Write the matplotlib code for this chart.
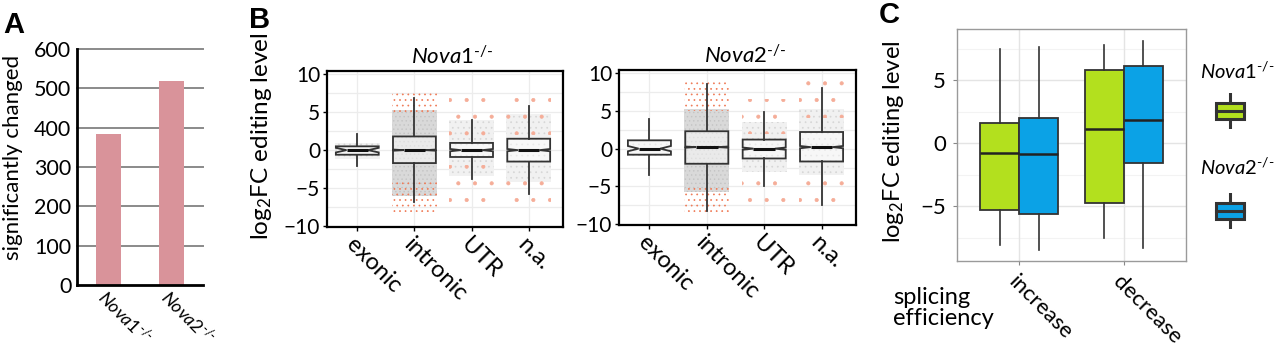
import matplotlib
matplotlib.use("Agg")
import matplotlib.pyplot as plt
from matplotlib.patches import Rectangle

plt.rcParams['font.family'] = ['Lato', 'DejaVu Sans']
plt.rcParams['mathtext.fontset'] = 'custom'
plt.rcParams['mathtext.rm'] = 'Lato'
plt.rcParams['mathtext.it'] = 'Lato:italic'
plt.rcParams['mathtext.bf'] = 'Lato:bold'
plt.rcParams['hatch.linewidth'] = 0.5

# ---- data ----
# A: number of significantly changed sites
genotypes = [r'$\mathit{Nova1}^{\text{-/-}}$', r'$\mathit{Nova2}^{\text{-/-}}$']
n_changed = [383, 519]

# B: log2FC editing level by region (box stats)
regions = ['exonic', 'intronic', 'UTR', 'n.a.']

nova1_wlo = [-2.1, -6.8, -3.8, -5.7]
nova1_q1 = [-0.6, -1.7, -0.9, -1.5]
nova1_med = [0.0, 0.0, 0.0, 0.0]
nova1_q3 = [0.5, 1.8, 0.95, 1.5]
nova1_whi = [2.1, 6.8, 3.9, 5.8]
nova1_notch = [0.3, 0.08, 0.15, 0.15]
# extent of the jittered points (grey = all sites, red = significant)
nova1_grey_lo = [-1.2, -6.0, -3.4, -4.2]
nova1_grey_hi = [1.0, 5.3, 4.0, 4.8]
nova1_red_top = [(0.0, 0.0), (4.8, 7.9), (1.5, 7.0), (2.0, 7.0)]
nova1_red_bot = [(0.0, 0.0), (-8.1, -3.8), (-8.0, -2.0), (-7.5, -2.5)]

nova2_wlo = [-3.5, -8.2, -5.0, -7.5]
nova2_q1 = [-0.8, -2.0, -1.3, -1.7]
nova2_med = [0.0, 0.2, 0.0, 0.2]
nova2_q3 = [1.1, 2.3, 1.2, 2.2]
nova2_whi = [3.9, 8.6, 4.9, 8.0]
nova2_notch = [0.35, 0.08, 0.15, 0.15]
nova2_grey_lo = [-1.0, -5.7, -3.1, -3.5]
nova2_grey_hi = [1.2, 5.3, 3.5, 5.3]
nova2_red_top = [(0.0, 0.0), (5.0, 9.2), (2.0, 6.5), (4.0, 9.0)]
nova2_red_bot = [(0.0, 0.0), (-8.5, -5.2), (-8.5, -3.0), (-7.7, -3.5)]

# C: editing level vs splicing efficiency
splicing = ['increase', 'decrease']
c_nova1_wlo = [-8.1, -7.55]
c_nova1_q1 = [-5.3, -4.75]
c_nova1_med = [-0.8, 1.1]
c_nova1_q3 = [1.6, 5.8]
c_nova1_whi = [7.5, 7.8]
c_nova2_wlo = [-8.45, -8.3]
c_nova2_q1 = [-5.65, -1.6]
c_nova2_med = [-0.85, 1.8]
c_nova2_q3 = [2.0, 6.15]
c_nova2_whi = [7.6, 8.1]

green = '#b3e01e'
blue = '#0ba2e6'
edge = '#333333'

W, H = 1280, 352
fig = plt.figure(figsize=(12.8, 3.52), dpi=100)


def px_axes(l, t, r, b):
    return fig.add_axes([l / W, 1 - b / H, (r - l) / W, (b - t) / H])


# ---- panel A ----
axA = px_axes(77, 49, 203, 285)
axA.bar([1, 2], n_changed, width=0.4, color='#d9939a', zorder=2)
axA.set_xlim(0.5, 2.5)
axA.set_ylim(0, 600)
axA.set_yticks(range(0, 601, 100))
for v in range(100, 601, 100):
    axA.axhline(v, color='#8a8a8a', lw=1.4, zorder=1, clip_on=False)
for s in ['top', 'right']:
    axA.spines[s].set_visible(False)
for s in ['left', 'bottom']:
    axA.spines[s].set_linewidth(2)
axA.tick_params(axis='y', length=0, labelsize=15.5, pad=4)
axA.tick_params(axis='x', length=0, pad=1)
axA.set_xticks([1, 2])
axA.set_xticklabels(genotypes, rotation=-45, ha='left', va='top',
                    rotation_mode='anchor', fontsize=13)
fig.text(13 / W, 1 - 157 / H, 'significantly changed', rotation=90,
         ha='center', va='center', fontsize=16)
fig.text(3 / W, 1 - 33 / H, 'A', fontsize=21, fontweight='bold',
         family='Liberation Sans')


# ---- panel B ----
def draw_region_panel(ax, title, wlo, q1, med, q3, whi, notch,
                      grey_lo, grey_hi, red_top, red_bot):
    pos = list(range(1, len(regions) + 1))
    for v in [-7.5, -2.5, 2.5, 7.5, -10, -5, 0, 5, 10]:
        ax.axhline(v, color='#ececec', lw=0.9, zorder=0)
    for p in pos:
        ax.axvline(p, color='#ececec', lw=0.9, zorder=0)
    for i, p in enumerate(pos):
        dense = regions[i] == 'intronic'
        ax.bar(p, grey_hi[i] - grey_lo[i], bottom=grey_lo[i], width=0.78,
               color='#d9d9d9' if dense else '#f1f1f1',
               edgecolor='#c4c4c4' if dense else '#d6d6d6', linewidth=0,
               hatch='....' if dense else '...', zorder=1)
        for lo, hi in (red_top[i], red_bot[i]):
            if hi > lo:
                ax.bar(p, hi - lo, bottom=lo, width=0.78, color='none',
                       edgecolor='#ef7a56' if dense else '#f5ad98',
                       linewidth=0, hatch='...' if dense else '.', zorder=1.5)
    stats = [dict(whislo=wlo[i], q1=q1[i], med=med[i], q3=q3[i], whishi=whi[i],
                  cilo=med[i] - notch[i], cihi=med[i] + notch[i])
             for i in range(len(regions))]
    ax.bxp(stats, positions=pos, widths=0.75, shownotches=True, showfliers=False,
           patch_artist=True, showcaps=False,
           boxprops=dict(facecolor=(1, 1, 1, 0.45), edgecolor=edge, lw=1.3),
           whiskerprops=dict(color=edge, lw=1.3),
           medianprops=dict(color='#111111', lw=2.2), zorder=3)
    ax.set_xlim(0.47, 4.6)
    ax.set_ylim(-10.1, 10.4)
    ax.set_yticks([-10, -5, 0, 5, 10])
    ax.set_xticks(pos)
    ax.set_xticklabels(regions, rotation=-45, ha='left', va='top',
                       rotation_mode='anchor', fontsize=17)
    ax.tick_params(axis='y', length=3, width=1, labelsize=15, pad=2)
    ax.tick_params(axis='x', length=3, width=1, pad=2)
    for s in ax.spines.values():
        s.set_linewidth(1.6)
    ax.set_title(title, fontsize=16, x=0.53, pad=5)


axB1 = px_axes(327, 71, 563, 227)
draw_region_panel(axB1, r'$\mathit{Nova1}^{\text{-/-}}$', nova1_wlo, nova1_q1, nova1_med,
                  nova1_q3, nova1_whi, nova1_notch, nova1_grey_lo, nova1_grey_hi,
                  nova1_red_top, nova1_red_bot)
axB2 = px_axes(619, 70, 856, 225)
draw_region_panel(axB2, r'$\mathit{Nova2}^{\text{-/-}}$', nova2_wlo, nova2_q1, nova2_med,
                  nova2_q3, nova2_whi, nova2_notch, nova2_grey_lo, nova2_grey_hi,
                  nova2_red_top, nova2_red_bot)
fig.text(262 / W, 1 - 136 / H, r'log$_2$FC editing level', rotation=90,
         ha='center', va='center', fontsize=17.5)
fig.text(249 / W, 1 - 28 / H, 'B', fontsize=21, fontweight='bold',
         family='Liberation Sans')

# ---- panel C ----
axC = px_axes(957, 29, 1186, 261)
cpos = [1, 2]
for v in [-7.5, -2.5, 2.5, 7.5]:
    axC.axhline(v, color='#f3f3f3', lw=0.8, zorder=0)
for v in [-5, 0, 5]:
    axC.axhline(v, color='#e4e4e4', lw=1.0, zorder=0)
for p in cpos:
    axC.axvline(p, color='#e4e4e4', lw=1.0, zorder=0)


def box_stats(wlo, q1, med, q3, whi):
    return [dict(whislo=wlo[i], q1=q1[i], med=med[i], q3=q3[i], whishi=whi[i])
            for i in range(len(wlo))]


for stats, offs, col in [
        (box_stats(c_nova1_wlo, c_nova1_q1, c_nova1_med, c_nova1_q3, c_nova1_whi), -0.1875, green),
        (box_stats(c_nova2_wlo, c_nova2_q1, c_nova2_med, c_nova2_q3, c_nova2_whi), 0.1875, blue)]:
    axC.bxp(stats, positions=[p + offs for p in cpos], widths=0.375,
            showfliers=False, showcaps=False, patch_artist=True,
            boxprops=dict(facecolor=col, edgecolor=edge, lw=1.3),
            whiskerprops=dict(color=edge, lw=1.2),
            medianprops=dict(color='#222222', lw=1.8), zorder=3)
axC.set_xlim(0.4, 2.6)
axC.set_ylim(-9.35, 9.05)
axC.set_yticks([-5, 0, 5])
axC.set_xticks(cpos)
axC.set_xticklabels(splicing, rotation=-45, ha='left', va='top',
                    rotation_mode='anchor', fontsize=17)
axC.tick_params(length=3, color='#888888', labelsize=16, pad=5)
for s in axC.spines.values():
    s.set_color('#9a9a9a')
    s.set_linewidth(1.0)
fig.text(894 / W, 1 - 142 / H, r'log$_2$FC editing level', rotation=90,
         ha='center', va='center', fontsize=17)
fig.text(893 / W, 1 - 287 / H, 'splicing\nefficiency', ha='left', va='top',
         fontsize=17, linespacing=1.0)
fig.text(879 / W, 1 - 23 / H, 'C', fontsize=21, fontweight='bold',
         family='Liberation Sans')

# legend of panel C
for label, col, ty, ky in [(r'$\mathit{Nova1}^{\text{-/-}}$', green, 71, 111),
                           (r'$\mathit{Nova2}^{\text{-/-}}$', blue, 167, 211)]:
    fig.text(1200 / W, 1 - ty / H, label, ha='left', va='center', fontsize=14.5)
    kax = px_axes(1210, ky - 18, 1250, ky + 18)
    kax.set_xlim(0, 1)
    kax.set_ylim(0, 1)
    kax.axis('off')
    kax.plot([0.5, 0.5], [0.0, 1.0], color=edge, lw=2.2)
    kax.add_patch(Rectangle((0.15, 0.28), 0.7, 0.44, facecolor=col,
                            edgecolor=edge, lw=2.2, zorder=2))
    kax.plot([0.15, 0.85], [0.5, 0.5], color=edge, lw=2.2, zorder=3)

fig.savefig('out.png', dpi=100)
